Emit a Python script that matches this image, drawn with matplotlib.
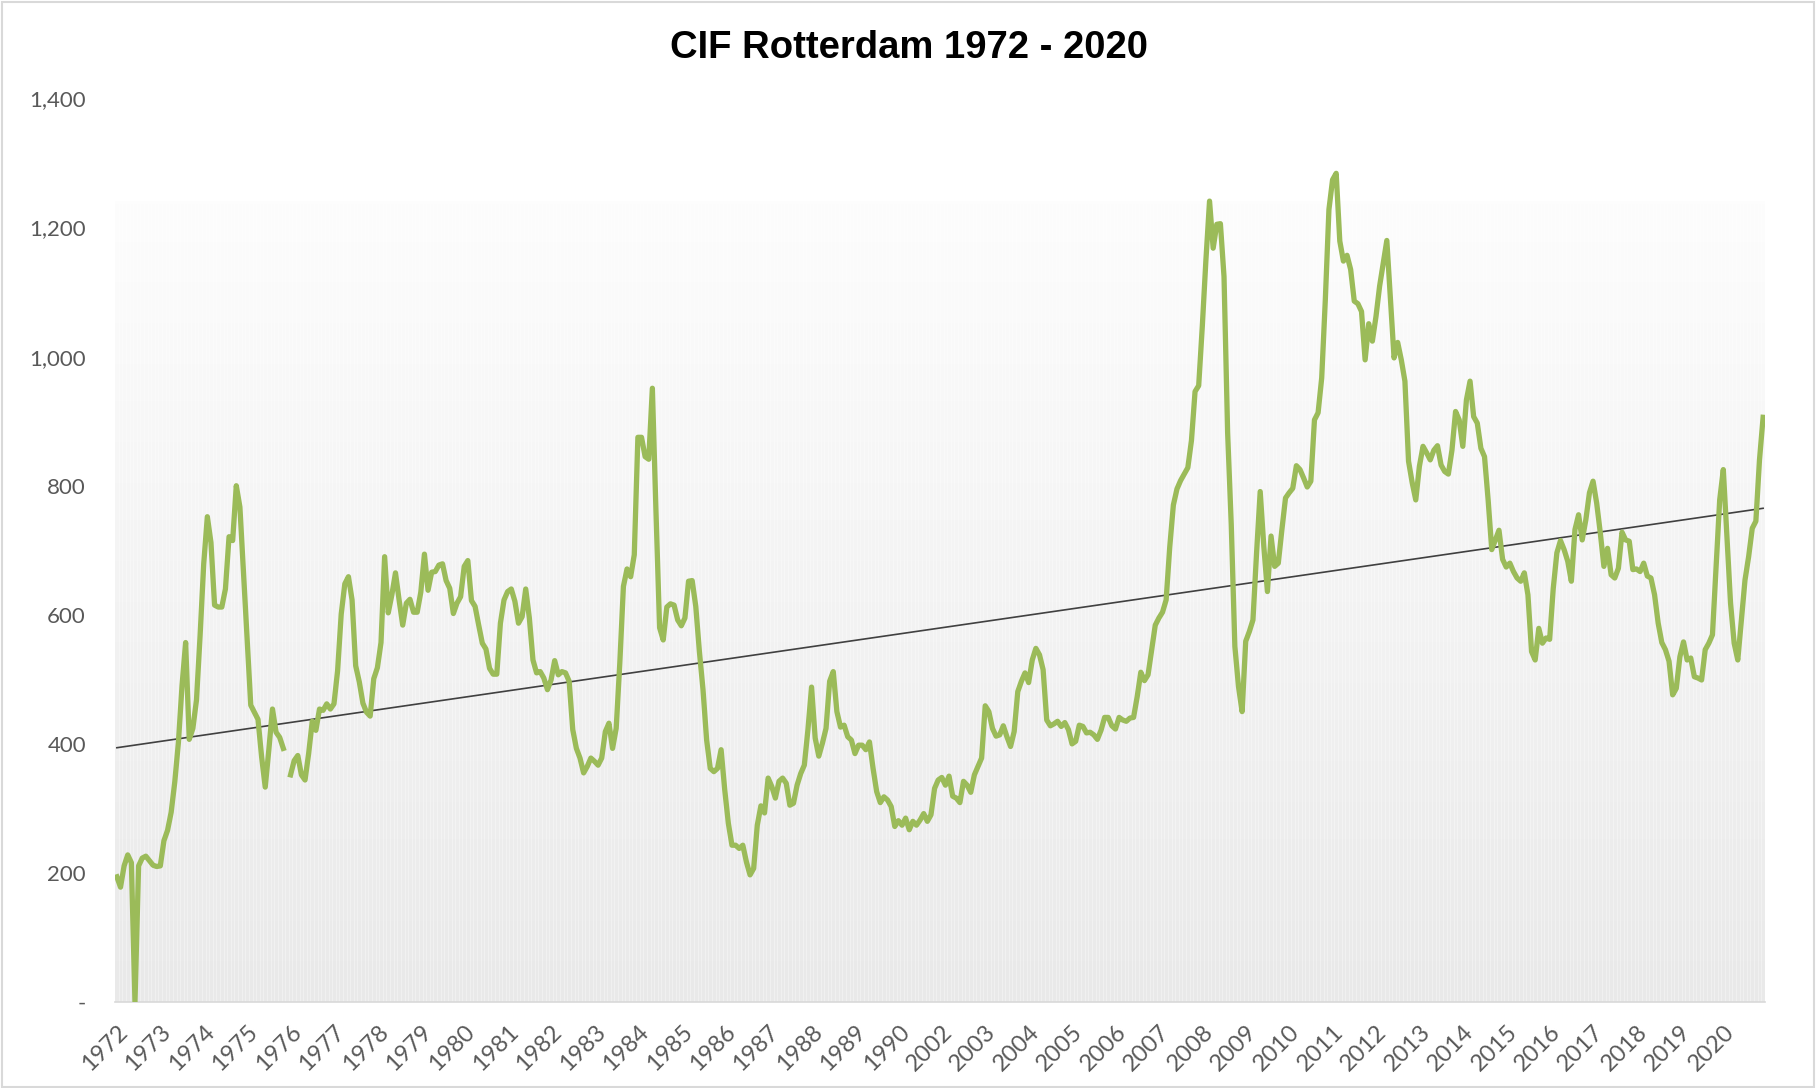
import numpy as np
import matplotlib.pyplot as plt
from matplotlib.ticker import FuncFormatter
from matplotlib.colors import LinearSegmentedColormap
from matplotlib.patches import Rectangle

# year labels (one per 12 months), note the jump 1990 -> 2002
years = [str(y) for y in list(range(1972, 1991)) + list(range(2002, 2021))]

# monthly CIF Rotterdam values
cif_1972_1976 = [194, 178, 211, 228, 216, 0, 211, 223, 226, 219, 212, 210,
                 211, 250, 266, 294, 341, 402, 490, 557, 407, 424, 468, 568,
                 679, 752, 712, 615, 612, 612, 640, 721, 715, 800, 767, 664,
                 562, 460, 449, 438, 380, 333, 391, 454, 418, 410, 393, np.nan,
                 352, 374, 382, 352, 344, 385, 435, 421, 454, 452, 462, 454]
cif_1977_1981 = [462, 513, 601, 648, 659, 623, 521, 496, 463, 449, 443, 501,
                 518, 557, 690, 603, 631, 665, 623, 584, 618, 624, 604, 604,
                 635, 694, 638, 666, 667, 677, 679, 653, 641, 602, 618, 628,
                 675, 684, 622, 613, 584, 556, 547, 517, 508, 508, 587, 623,
                 636, 640, 621, 587, 597, 640, 595, 530, 510, 512, 502, 484]
cif_1982_1986 = [499, 529, 507, 512, 510, 497, 422, 393, 378, 355, 365, 378,
                 373, 367, 378, 419, 432, 393, 424, 525, 644, 671, 659, 693,
                 875, 875, 845, 841, 951, 760, 580, 561, 612, 617, 615, 592,
                 583, 595, 652, 653, 613, 543, 484, 406, 362, 357, 362, 391,
                 329, 277, 243, 243, 238, 243, 217, 197, 207, 274, 304, 293]
cif_1987_1990 = [347, 334, 316, 342, 347, 339, 305, 308, 336, 354, 367, 422,
                 488, 409, 381, 401, 424, 497, 512, 450, 426, 429, 411, 406,
                 385, 398, 398, 391, 403, 362, 326, 309, 318, 313, 303, 272,
                 281, 274, 285, 267, 280, 274, 282, 292, 280, 290, 331, 344]
cif_2002_2006 = [348, 336, 350, 319, 316, 309, 342, 336, 325, 352, 365, 378,
                 459, 450, 424, 412, 414, 428, 411, 396, 419, 481, 497, 510,
                 495, 530, 548, 538, 515, 437, 428, 431, 435, 427, 433, 422,
                 400, 404, 429, 427, 417, 418, 414, 407, 421, 441, 441, 428,
                 423, 441, 437, 435, 440, 441, 473, 511, 498, 507, 546, 584]
cif_2007_2011 = [595, 604, 623, 705, 770, 795, 808, 818, 828, 870, 946, 955,
                 1047, 1150, 1241, 1168, 1205, 1206, 1124, 882, 740, 551, 489, 450,
                 559, 574, 592, 696, 791, 706, 636, 722, 675, 680, 732, 781,
                 789, 796, 831, 825, 812, 798, 807, 902, 913, 967, 1088, 1228,
                 1274, 1284, 1179, 1148, 1157, 1135, 1086, 1082, 1070, 995, 1051, 1024]
cif_2012_2016 = [1062, 1109, 1145, 1180, 1088, 998, 1022, 995, 962, 838, 805, 778,
                 830, 861, 851, 840, 855, 862, 832, 822, 818, 855, 915, 902,
                 861, 933, 962, 907, 897, 858, 845, 778, 701, 716, 731, 686,
                 674, 680, 667, 657, 652, 665, 631, 543, 530, 579, 556, 564,
                 562, 641, 696, 715, 701, 683, 652, 732, 755, 716, 747, 789]
cif_2017_2020 = [807, 773, 727, 675, 703, 662, 657, 672, 728, 716, 714, 670,
                 671, 667, 680, 660, 657, 631, 587, 557, 546, 528, 476, 486,
                 535, 558, 530, 533, 504, 502, 499, 546, 556, 569, 675, 778,
                 825, 721, 618, 556, 530, 592, 654, 690, 734, 745, 840, 906]

backdrop_level = 1240   # height of the grey column backdrop

cif = np.array(cif_1972_1976 + cif_1977_1981 + cif_1982_1986 + cif_1987_1990 +
               cif_2002_2006 + cif_2007_2011 + cif_2012_2016 + cif_2017_2020, dtype=float)
n = len(cif)
x = np.arange(n)

fig = plt.figure(figsize=(18.18, 10.88), dpi=100)
ax = fig.add_axes([0.0633, 0.079, 0.9075, 0.8305])

# gradient columns behind the line
grad = LinearSegmentedColormap.from_list('g', ['#e9e9e9', '#f3f3f3', '#fdfdfd'])
ax.imshow(np.linspace(0, 1, 256).reshape(-1, 1), cmap=grad, origin='lower', aspect='auto',
          extent=(-0.5, n - 0.5, 0, backdrop_level), zorder=0)
ax.vlines(x + 0.5, 0, backdrop_level, color='white', alpha=0.55, lw=0.45, zorder=1)

# linear trendline (like Excel's)
ok = ~np.isnan(cif)
k, b = np.polyfit(x[ok], cif[ok], 1)
ax.plot(x, k * x + b, color='#404040', lw=1.2, zorder=2)

ax.plot(x, cif, color='#9bbb59', lw=3.8, solid_joinstyle='round', zorder=3)

ax.set_xlim(-0.5, n - 0.5)
ax.set_ylim(0, 1400)
ax.set_yticks(np.arange(0, 1401, 200))
ax.yaxis.set_major_formatter(FuncFormatter(lambda v, p: '-' if v == 0 else f'{v:,.0f}'))
ax.set_xticks(np.arange(0, n, 12))
ax.set_xticklabels(years, rotation=45, ha='right', va='top', rotation_mode='anchor')

for s in ['top', 'right', 'left']:
    ax.spines[s].set_visible(False)
ax.spines['bottom'].set_color('#d9d9d9')
ax.spines['bottom'].set_linewidth(1.2)
ax.tick_params(axis='both', length=0, colors='#595959', labelsize=16)
ax.tick_params(axis='x', labelsize=17, pad=14)
ax.tick_params(axis='y', pad=21)
for lab in ax.get_xticklabels() + ax.get_yticklabels():
    lab.set_family('Lato')

fig.text(0.5, 0.956, 'CIF Rotterdam 1972 - 2020', ha='center', va='center',
         fontsize=27.5, fontweight='bold', family='Liberation Sans')

fig.patches.append(Rectangle((0.001, 0.001), 0.997, 0.997, transform=fig.transFigure,
                             fill=False, edgecolor='#d9d9d9', lw=1.5))

fig.savefig('out.png', dpi=100, facecolor='white')
